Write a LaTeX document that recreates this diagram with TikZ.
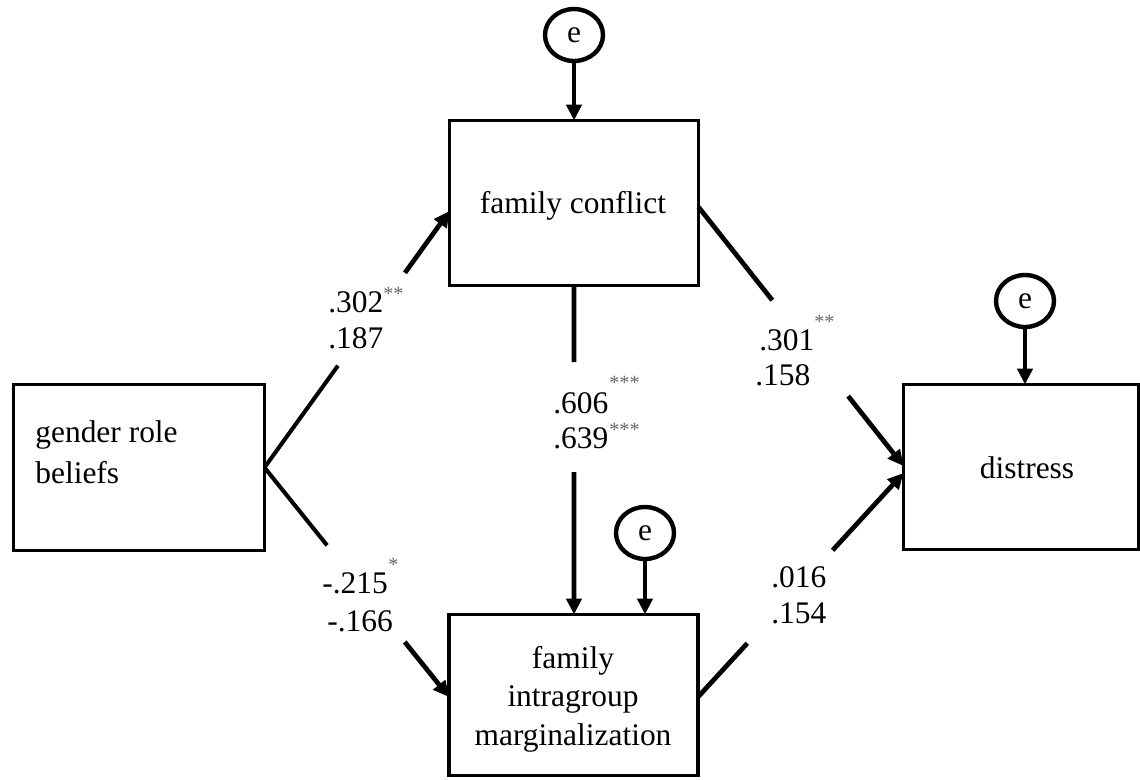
\documentclass[tikz,border=0pt]{standalone}
\usepackage{fontspec}
\setmainfont{Liberation Serif}
\usetikzlibrary{arrows.meta,shapes.geometric,calc}
\begin{document}
\begin{tikzpicture}[x=0.02cm,y=-0.02cm,
  box/.style={draw, line width=2.1pt, inner sep=0pt, outer sep=0pt},
  txt/.style={inner sep=0pt, font=\fontsize{17.9}{21}\selectfont},
  stars/.style={inner sep=0pt, text=black!60, font=\fontsize{11.5}{13}\selectfont},
  errc/.style={draw, ellipse, line width=2.5pt, minimum width=1.16cm, minimum height=1.04cm, inner sep=0pt, outer sep=0pt, font=\fontsize{17.9}{21}\selectfont},
  lite/.style={line width=2.3pt},
  heavy/.style={line width=2.7pt},
  arr/.style={-{Triangle[length=9pt,width=8.5pt]}},
]
\useasboundingbox (0,0) rectangle (1140,779);

% boxes
\node[box, minimum width=5.02cm, minimum height=3.32cm] (grb) at (139,467.5) {};
\node[box, minimum width=4.98cm, minimum height=3.3cm] (fc) at (574,203) {};
\node[box, minimum width=4.98cm, minimum height=3.22cm] (fim) at (573.5,695) {};
\node[box, minimum width=4.7cm, minimum height=3.3cm] (dis) at (1021,467) {};

% box texts
\node[txt, anchor=base west] (grb1) at (35,442) {gender role};
\node[txt, anchor=base west] (grb2) at (35,483) {beliefs};
\node[txt, anchor=base] (fct) at (573,213) {family conflict};
\node[txt, anchor=base] (dist) at (1027,478) {distress};
\node[txt, anchor=base] (fim1) at (573,668) {family};
\node[txt, anchor=base] (fim2) at (573,706) {intragroup};
\node[txt, anchor=base] (fim3) at (573,745) {marginalization};

% error terms
\node[errc] (e1) at (574,35) {e};
\node[errc] (e2) at (1025,301) {e};
\node[errc] (e3) at (645,533) {e};
\draw[heavy, arr] (e1.south) -- (e1.south |- fc.north);
\draw[heavy, arr] (e2.south) -- (e2.south |- dis.north);
\draw[heavy, arr] (e3.south) -- (e3.south |- fim.north);

% gender role beliefs -> family conflict
\coordinate (fcin) at ($(fc.west)+(0,8)$);
\draw[lite] (grb.east) -- ($(grb.east)!0.397!(fcin)$);
\draw[heavy, arr] ($(grb.east)!0.759!(fcin)$) -- (fcin);

% gender role beliefs -> marginalization
\coordinate (fimin) at ($(fim.west)+(0,2)$);
\draw[lite] (grb.east) -- ($(grb.east)!0.339!(fimin)$);
\draw[heavy, arr] ($(grb.east)!0.76!(fimin)$) -- (fimin);

% family conflict -> distress
\coordinate (fcout) at ($(fc.east)+(0,4)$);
\coordinate (disin1) at ($(dis.west)+(0,-1)$);
\draw[heavy] (fcout) -- ($(fcout)!0.36!(disin1)$);
\draw[heavy, arr] ($(fcout)!0.73!(disin1)$) -- (disin1);

% marginalization -> distress
\coordinate (fimout) at ($(fim.east)+(0,2)$);
\coordinate (disin2) at ($(dis.west)+(0,6)$);
\draw[heavy] (fimout) -- ($(fimout)!0.24!(disin2)$);
\draw[heavy, arr] ($(fimout)!0.655!(disin2)$) -- (disin2);

% family conflict -> marginalization
\coordinate (fimtop) at (fc.south |- fim.north);
\draw[heavy] (fc.south) -- ($(fc.south)!0.233!(fimtop)$);
\draw[heavy, arr] ($(fc.south)!0.567!(fimtop)$) -- (fimtop);

% coefficients
\node[txt, anchor=base west] (c1a) at (328,312) {.302};
\node[stars, anchor=base west] (s1a) at (383,300) {**};
\node[txt, anchor=base west] (c1b) at (328,348) {.187};

\node[txt, anchor=base west] (c2a) at (553,413) {.606};
\node[stars, anchor=base west] (s2a) at (609,389) {***};
\node[txt, anchor=base west] (c2b) at (553,448) {.639};
\node[stars, anchor=base west] (s2b) at (609,436) {***};

\node[txt, anchor=base west] (c3a) at (759,350) {.301};
\node[stars, anchor=base west] (s3a) at (814,328) {**};
\node[txt, anchor=base west] (c3b) at (755,385) {.158};

\node[txt, anchor=base west] (c4a) at (322,593) {-.215};
\node[stars, anchor=base west] (s4a) at (388,571) {*};
\node[txt, anchor=base west] (c4b) at (327,631) {-.166};

\node[txt, anchor=base west] (c5a) at (771,587) {.016};
\node[txt, anchor=base west] (c5b) at (771,623) {.154};
\end{tikzpicture}
\end{document}
